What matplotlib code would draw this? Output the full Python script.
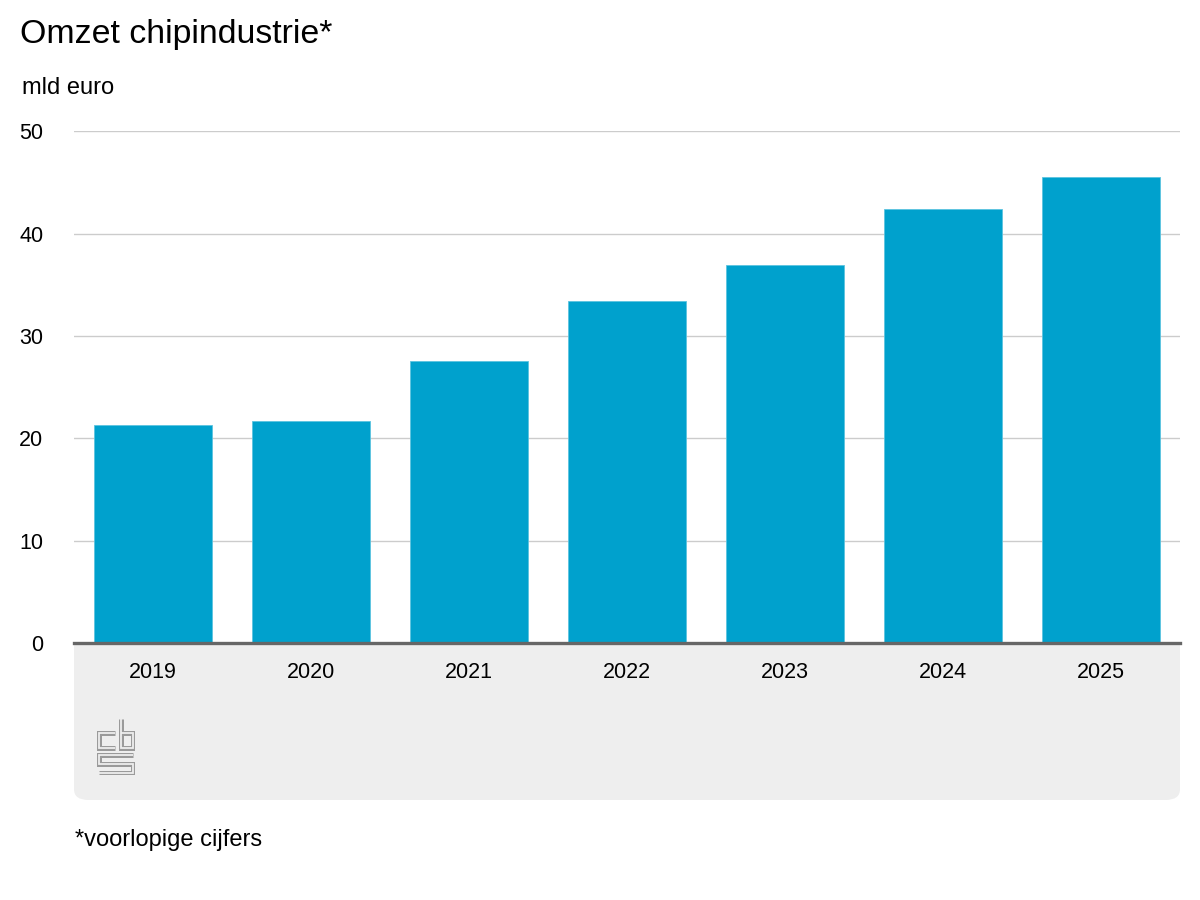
import matplotlib.pyplot as plt
from matplotlib.patches import FancyBboxPatch, Rectangle

years = ["2019", "2020", "2021", "2022", "2023", "2024", "2025"]
omzet = [21.3, 21.7, 27.6, 33.4, 36.9, 42.4, 45.5]
y_ticks = [0, 10, 20, 30, 40, 50]

plt.rcParams["font.family"] = ["Liberation Sans", "DejaVu Sans"]

W, H = 1200, 900
fig = plt.figure(figsize=(12, 9), dpi=100)
fig.patch.set_facecolor("white")

# grey footer panel under the axis (rounded bottom corners)
panel_l, panel_r, panel_t, panel_b = 74, 1180, 643, 800
panel = FancyBboxPatch(
    (panel_l / W, 1 - panel_b / H),
    (panel_r - panel_l) / W,
    (panel_b - panel_t) / H,
    boxstyle="round,pad=0,rounding_size=0.012",
    transform=fig.transFigure,
    facecolor="#eeeeee",
    edgecolor="none",
    zorder=-5,
)
fig.patches.append(panel)
fig.patches.append(
    Rectangle(
        (panel_l / W, 1 - (panel_t + 40) / H),
        (panel_r - panel_l) / W,
        40 / H,
        transform=fig.transFigure,
        facecolor="#eeeeee",
        edgecolor="none",
        zorder=-5,
    )
)

ax = fig.add_axes([74 / W, 1 - 643 / H, (1180 - 74) / W, (643 - 131.3) / H])
ax.set_facecolor("none")
x = range(len(years))
ax.bar(x, omzet, width=0.75, color="#00a1cd", edgecolor="#5cc4e0", linewidth=0.6, zorder=2)
ax.axhline(0, color="#666666", linewidth=2.4, zorder=3, clip_on=False)

ax.set_xlim(-0.5, len(years) - 0.5)
ax.set_ylim(0, 50)
ax.set_yticks(y_ticks)
ax.set_yticklabels([str(t) for t in y_ticks])
ax.set_xticks(list(x))
ax.set_xticklabels(years)
ax.yaxis.grid(True, color="#cccccc", linewidth=1.0, zorder=0)
ax.set_axisbelow(True)
for s in ax.spines.values():
    s.set_visible(False)
ax.tick_params(axis="y", length=0, pad=22, labelsize=15.5, labelcolor="black")
ax.tick_params(axis="x", length=0, pad=14, labelsize=15.5, labelcolor="black")

fig.text(20 / W, 1 - 35 / H, "Omzet chipindustrie*", fontsize=24.4, va="center", ha="left")
fig.text(22 / W, 1 - 88 / H, "mld euro", fontsize=17, va="center", ha="left")
fig.text(75 / W, 1 - 840 / H, "*voorlopige cijfers", fontsize=17, va="center", ha="left")

# cbs logo, outlined strokes
lax = fig.add_axes([97 / W, 1 - 775 / H, 38 / W, 57 / H])
lax.set_xlim(0, 38)
lax.set_ylim(57, 0)
lax.axis("off")
strokes = [
    ([18, 2.5, 2.5, 18], [15, 15, 30, 30]),  # c
    ([24, 24, 35.5, 35.5, 24], [1, 30, 30, 15, 15]),  # b
    ([35.5, 2.5, 2.5, 35.5, 35.5, 2.5], [37, 37, 46, 46, 55, 55]),  # S
]
for xs, ys in strokes:
    lax.plot(xs, ys, color="#9a9a9a", linewidth=3.6, solid_capstyle="butt", solid_joinstyle="miter")
    lax.plot(xs, ys, color="#eeeeee", linewidth=1.3, solid_capstyle="butt", solid_joinstyle="miter")

fig.savefig("out.png", dpi=100)
